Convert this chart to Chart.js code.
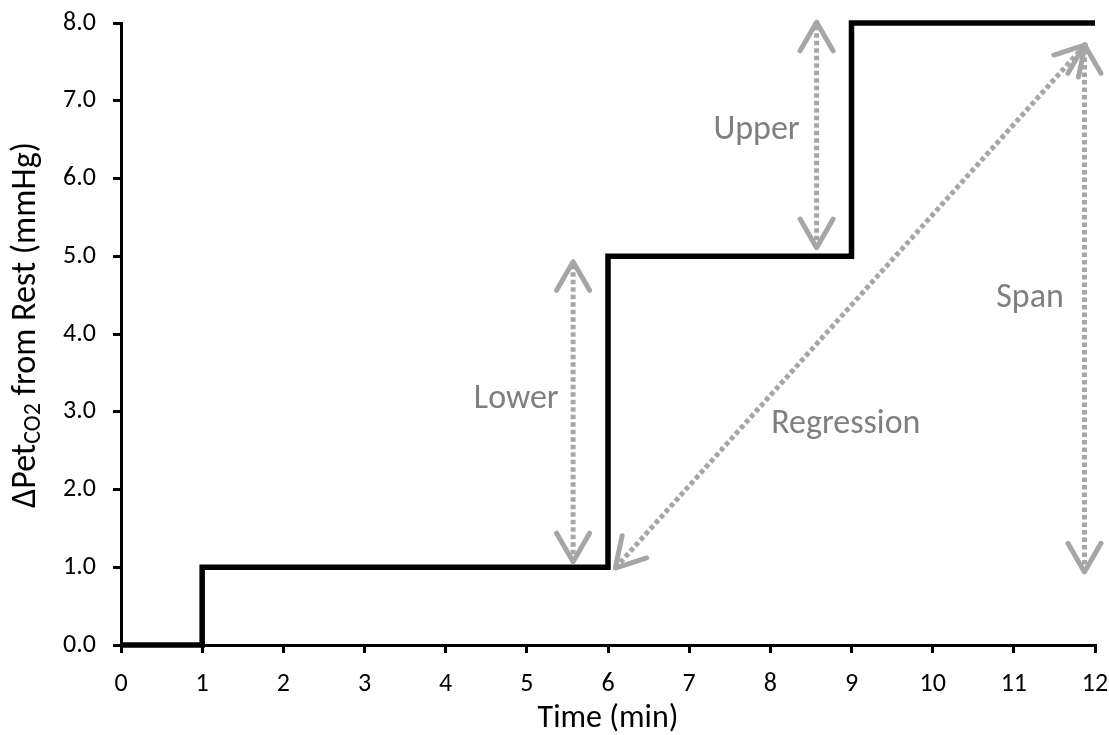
<!DOCTYPE html>
<html><head><meta charset="utf-8">
<script src="https://cdn.jsdelivr.net/npm/chart.js@4.4.0/dist/chart.umd.min.js"></script>
<style>html,body{margin:0;padding:0;background:#fff}</style>
</head><body>
<canvas id="c" width="1109" height="735" style="width:1109px;height:735px;display:block"></canvas>
<script>
// ---- data ----
const timeMin = [0, 1, 6, 9, 12];
const deltaPetCO2 = [0, 1, 5, 8, 8];
const xTickLabels = ['0','1','2','3','4','5','6','7','8','9','10','11','12'];
const yTickLabels = ['0.0','1.0','2.0','3.0','4.0','5.0','6.0','7.0','8.0'];
const lowerArrowX = [5.57, 5.57];
const lowerArrowY = [1.07, 4.93];
const upperArrowX = [8.57, 8.57];
const upperArrowY = [5.11, 8.01];
const spanArrowX = [11.87, 11.87];
const spanArrowY = [0.94, 7.72];
const regressionArrowX = [6.09, 11.88];
const regressionArrowY = [0.99, 7.72];
const annoLabels = ['Lower', 'Upper', 'Regression', 'Span'];
const annoX = [4.87, 7.83, 8.93, 11.2];
const annoY = [3.05, 6.51, 2.73, 4.35];
const xTitle = 'Time (min)';
const yTitleParts = ['\u0394Pet', 'CO2', ' from Rest (mmHg)'];

const FONT = "Carlito, 'Open Sans', sans-serif";
const GREY = '#a6a6a6';
const LABEL_GREY = '#7f7f7f';

function pts(xs, ys) { return xs.map((x, i) => ({ x: x, y: ys[i] })); }
function arrowDs(xs, ys) {
  return { data: pts(xs, ys), borderColor: GREY, borderWidth: 5, borderDash: [4.5, 3],
    borderCapStyle: 'butt', pointRadius: 0, fill: false, clip: false, isArrow: true };
}

const arrowHeads = {
  id: 'arrowHeads',
  afterDatasetsDraw(chart) {
    const ctx = chart.ctx;
    chart.data.datasets.forEach((ds, i) => {
      if (!ds.isArrow) return;
      const d = chart.getDatasetMeta(i).data;
      const a = d[0], b = d[1];
      const head = (tip, from) => {
        const ang = Math.atan2(from.y - tip.y, from.x - tip.x);
        const L = 33, h = Math.PI / 6;
        ctx.beginPath();
        ctx.moveTo(tip.x + L * Math.cos(ang - h), tip.y + L * Math.sin(ang - h));
        ctx.lineTo(tip.x, tip.y);
        ctx.lineTo(tip.x + L * Math.cos(ang + h), tip.y + L * Math.sin(ang + h));
        ctx.stroke();
      };
      ctx.save();
      ctx.strokeStyle = GREY; ctx.lineWidth = 5; ctx.lineCap = 'round'; ctx.lineJoin = 'round';
      ctx.setLineDash([]);
      head(b, a); head(a, b);
      ctx.restore();
    });
  }
};

const textPlugin = {
  id: 'texts',
  afterDraw(chart) {
    const ctx = chart.ctx, xs = chart.scales.x, ys = chart.scales.y;
    ctx.save();
    ctx.fillStyle = LABEL_GREY;
    ctx.font = '34px ' + FONT;
    ctx.textAlign = 'center';
    ctx.textBaseline = 'alphabetic';
    annoLabels.forEach((t, i) => {
      ctx.fillText(t, xs.getPixelForValue(annoX[i]), ys.getPixelForValue(annoY[i]));
    });
    ctx.restore();
    // y-axis title with subscript
    ctx.save();
    const big = '34px ' + FONT, small = '24px ' + FONT;
    ctx.font = big; const w0 = ctx.measureText(yTitleParts[0]).width;
    const w2 = ctx.measureText(yTitleParts[2]).width;
    ctx.font = small; const w1 = ctx.measureText(yTitleParts[1]).width;
    const total = w0 + w1 + w2;
    const cy = (chart.chartArea.top + chart.chartArea.bottom) / 2 - 9;
    ctx.translate(35, cy);
    ctx.rotate(-Math.PI / 2);
    ctx.fillStyle = '#000';
    ctx.textAlign = 'left';
    ctx.textBaseline = 'alphabetic';
    let x = -total / 2;
    ctx.font = big; ctx.fillText(yTitleParts[0], x, 0); x += w0;
    ctx.font = small; ctx.fillText(yTitleParts[1], x, 5); x += w1;
    ctx.font = big; ctx.fillText(yTitleParts[2], x, 0);
    ctx.restore();
  }
};

new Chart(document.getElementById('c'), {
  type: 'line',
  data: {
    datasets: [
      { data: pts(timeMin, deltaPetCO2), stepped: 'before', borderColor: '#000', borderWidth: 5.5,
        borderJoinStyle: 'miter', borderCapStyle: 'butt', pointRadius: 0, fill: false, clip: false },
      arrowDs(lowerArrowX, lowerArrowY),
      arrowDs(upperArrowX, upperArrowY),
      arrowDs(spanArrowX, spanArrowY),
      arrowDs(regressionArrowX, regressionArrowY)
    ]
  },
  options: {
    responsive: false,
    devicePixelRatio: 1,
    animation: false,
    layout: { padding: { left: 0, right: 14, top: 23, bottom: 0 } },
    plugins: { legend: { display: false }, tooltip: { enabled: false } },
    scales: {
      x: {
        type: 'linear', min: 0, max: 12,
        afterFit: s => { s.height = 90; s.paddingLeft = 0; s.paddingRight = 0; },
        ticks: { stepSize: 1, autoSkip: false, maxRotation: 0, color: '#000', padding: 16,
          font: { family: FONT, size: 26 }, callback: v => xTickLabels[v] },
        grid: { display: true, drawOnChartArea: false, drawTicks: true, tickLength: 8, color: '#000', lineWidth: 3 },
        border: { display: true, color: '#000', width: 3 },
        title: { display: true, text: xTitle, color: '#000', padding: { top: 0, bottom: 0 },
          font: { family: FONT, size: 32, lineHeight: 1 } }
      },
      y: {
        type: 'linear', min: 0, max: 8,
        afterFit: s => { s.width = 121; s.paddingTop = 0; s.paddingBottom = 0; },
        ticks: { stepSize: 1, autoSkip: false, color: '#000', padding: 17,
          font: { family: FONT, size: 26 }, callback: v => yTickLabels[v] },
        grid: { display: true, drawOnChartArea: false, drawTicks: true, tickLength: 8, color: '#000', lineWidth: 3 },
        border: { display: true, color: '#000', width: 3 },
        title: { display: false }
      }
    }
  },
  plugins: [arrowHeads, textPlugin]
});
</script>
</body></html>
